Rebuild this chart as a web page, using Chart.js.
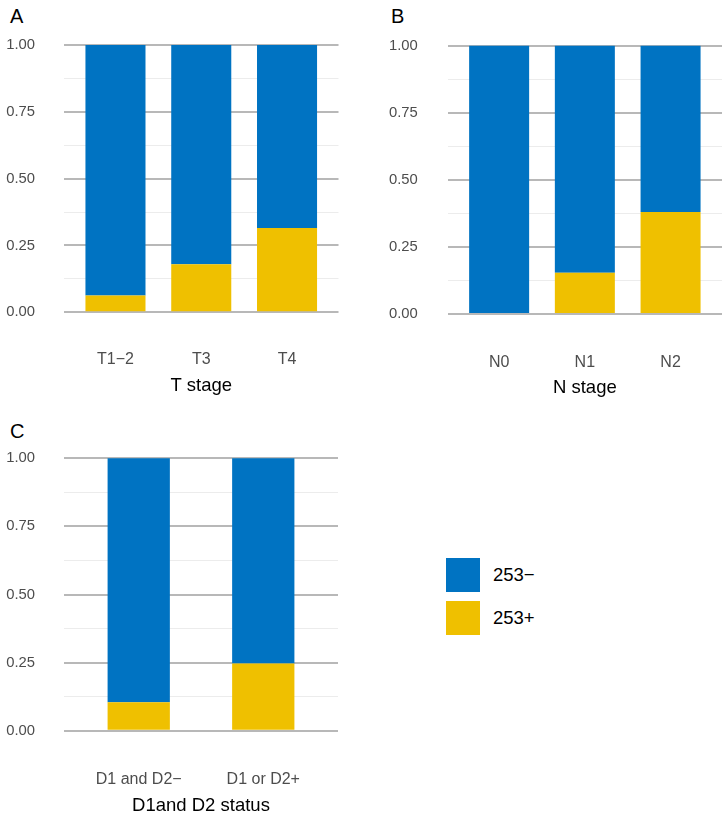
<!DOCTYPE html>
<html>
<head>
<meta charset="utf-8">
<script src="https://cdn.jsdelivr.net/npm/chart.js@4.4.1/dist/chart.umd.min.js"></script>
<style>
  html,body{margin:0;padding:0;background:#fff;}
  body{width:723px;height:819px;position:relative;overflow:hidden;font-family:"Liberation Sans",Arial,sans-serif;}
  .wrap{position:absolute;}
  .letter{position:absolute;font-size:20px;line-height:20px;color:#000;}
  .leg{position:absolute;display:flex;align-items:center;height:34px;font-size:18.5px;color:#000;}
  .sw{display:inline-block;width:34px;height:34px;margin-right:13px;}
</style>
</head>
<body>
<div class="letter" style="left:10px;top:6px;">A</div>
<div class="letter" style="left:391px;top:6px;">B</div>
<div class="letter" style="left:10px;top:421px;">C</div>

<div class="wrap" style="left:0;top:0;width:361px;height:400px;"><canvas id="cA"></canvas></div>
<div class="wrap" style="left:361px;top:0;width:362px;height:400px;"><canvas id="cB"></canvas></div>
<div class="wrap" style="left:0;top:400px;width:361px;height:419px;"><canvas id="cC"></canvas></div>

<div class="leg" style="left:446px;top:558px;"><span class="sw" style="background:#0073C2"></span><span>253−</span></div>
<div class="leg" style="left:446px;top:601px;"><span class="sw" style="background:#EFC000"></span><span>253+</span></div>

<script>
// ---- data ----
const seriesNames = ['253+', '253−'];

const catsA = ['T1−2', 'T3', 'T4'];
const posA  = [0.063, 0.180, 0.315];
const negA  = [0.937, 0.820, 0.685];

const catsB = ['N0', 'N1', 'N2'];
const posB  = [0.000, 0.154, 0.380];
const negB  = [1.000, 0.846, 0.620];

const catsC = ['D1 and D2−', 'D1 or D2+'];
const posC  = [0.104, 0.247];
const negC  = [0.896, 0.753];

const yTickValues = [0, 0.125, 0.25, 0.375, 0.5, 0.625, 0.75, 0.875, 1];
const yLabelledTicks = [0, 0.25, 0.5, 0.75, 1];

const titleA = 'T stage';
const titleB = 'N stage';
const titleC = 'D1and D2 status';

// ---- styling ----
const FAMILY = '"Liberation Sans", Arial, sans-serif';
Chart.defaults.font.family = FAMILY;
const BLUE = '#0073C2', YELLOW = '#EFC000';
const isMajor = v => yLabelledTicks.some(t => Math.abs(t - v) < 1e-9);

function makePanel(id, cats, pos, neg, xTitle, g) {
  const ctx = document.getElementById(id);
  return new Chart(ctx, {
    type: 'bar',
    data: {
      datasets: [
        { label: seriesNames[0], data: cats.map((c, i) => ({ x: i + 1, y: pos[i] })),
          backgroundColor: YELLOW, borderWidth: 0, categoryPercentage: g.catPct, barPercentage: 1 },
        { label: seriesNames[1], data: cats.map((c, i) => ({ x: i + 1, y: neg[i] })),
          backgroundColor: BLUE, borderWidth: 0, categoryPercentage: g.catPct, barPercentage: 1 }
      ]
    },
    options: {
      responsive: true,
      maintainAspectRatio: false,
      animation: false,
      layout: { padding: { left: 0, top: g.top, right: g.w - g.right, bottom: 0 } },
      plugins: { legend: { display: false }, tooltip: { enabled: false } },
      scales: {
        x: {
          type: 'linear', stacked: true, offset: false,
          min: 0.4, max: cats.length + 0.6,
          afterBuildTicks: s => { s.ticks = cats.map((c, i) => ({ value: i + 1 })); },
          afterFit: s => { s.height = g.h - g.bottom; s.paddingLeft = 0; s.paddingRight = 0; },
          grid: { display: false, drawTicks: false, offset: false },
          border: { display: false },
          ticks: { padding: g.tickPad, color: '#4d4d4d', font: { size: 16 }, autoSkip: false, maxRotation: 0,
                   callback: v => cats[Math.round(v) - 1] },
          title: { display: true, text: xTitle, color: '#000', font: { size: 18.5 }, padding: { top: 0, bottom: g.titlePad } }
        },
        y: {
          type: 'linear', stacked: true,
          min: -0.05, max: 1.05,
          afterBuildTicks: s => { s.ticks = yTickValues.map(v => ({ value: v })); },
          afterFit: s => { s.width = g.left; s.paddingTop = 0; s.paddingBottom = 0; },
          grid: {
            drawTicks: false,
            color: c => isMajor(c.tick.value) ? '#b8b8b8' : '#ececec',
            lineWidth: c => isMajor(c.tick.value) ? 2 : 1
          },
          border: { display: false },
          ticks: { padding: g.yPad, color: '#4d4d4d', font: { size: 14.8 },
                   callback: v => isMajor(v) ? v.toFixed(2) : '' }
        }
      }
    }
  });
}

makePanel('cA', catsA, posA, negA, titleA,
  { w: 361, h: 400, left: 64, right: 338.5, top: 31.6, bottom: 325.7, catPct: 0.7, tickPad: 24, titlePad: 3, yPad: 29 });
makePanel('cB', catsB, posB, negB, titleB,
  { w: 362, h: 400, left: 86.7, right: 361, top: 32.3, bottom: 327.4, catPct: 0.7, tickPad: 26, titlePad: 1, yPad: 30 });
makePanel('cC', catsC, posC, negC, titleC,
  { w: 361, h: 419, left: 64, right: 338, top: 44.7, bottom: 344.3, catPct: 0.5, tickPad: 26, titlePad: 2, yPad: 29 });
</script>
</body>
</html>
